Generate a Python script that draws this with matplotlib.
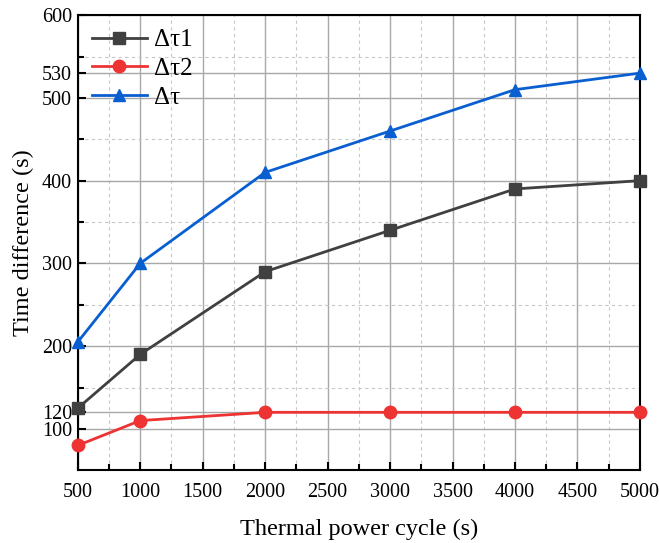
import numpy as np
import matplotlib.pyplot as plt
from matplotlib.ticker import FixedLocator

plt.rcParams['font.family'] = ['Liberation Serif', 'DejaVu Serif']

cycles = [500, 1000, 2000, 3000, 4000, 5000]
dtau1 = [125, 190, 290, 340, 390, 400]
dtau2 = [80, 110, 120, 120, 120, 120]
dtau = [205, 300, 410, 460, 510, 530]

xticks = [500, 1000, 1500, 2000, 2500, 3000, 3500, 4000, 4500, 5000]
xminor = [750, 1250, 1750, 2250, 2750, 3250, 3750, 4250, 4750]
yticks = [100, 120, 200, 300, 400, 500, 530, 600]
yminor = [150, 250, 350, 450, 550]

fig = plt.figure(figsize=(6.59, 5.43), dpi=100)
ax = fig.add_axes([0.118, 0.134, 0.853, 0.838])

ax.plot(cycles, dtau1, color='#404040', marker='s', ms=8, lw=2, label='Δτ1', clip_on=False, zorder=3)
ax.plot(cycles, dtau2, color='#ee3333', marker='o', ms=9, lw=2, label='Δτ2', clip_on=False, zorder=3)
ax.plot(cycles, dtau, color='#0a5fd0', marker='^', ms=9, lw=2, label='Δτ', clip_on=False, zorder=3)

ax.set_xlim(500, 5000)
ax.set_ylim(50, 600)
ax.xaxis.set_major_locator(FixedLocator(xticks))
ax.xaxis.set_minor_locator(FixedLocator(xminor))
ax.yaxis.set_major_locator(FixedLocator(yticks))
ax.yaxis.set_minor_locator(FixedLocator(yminor))

ax.grid(which='major', color='#a8a8a8', lw=1, ls='-')
ax.grid(which='minor', color='#c8c8c8', lw=0.8, ls=(0, (3, 3)))
ax.set_axisbelow(True)

ax.tick_params(which='both', direction='in', labelsize=14.5, width=1.5)
ax.tick_params(which='major', length=6)
ax.tick_params(which='minor', length=4)
ax.tick_params(axis='x', pad=9)
ax.tick_params(axis='y', pad=4)
for s in ax.spines.values():
    s.set_linewidth(1.5)

ax.set_xlabel('Thermal power cycle (s)', fontsize=17.5, labelpad=12)
ax.set_ylabel('Time difference (s)', fontsize=17.5, labelpad=6)

ax.legend(loc='upper left', frameon=False, fontsize=18, handlelength=2.2,
          borderaxespad=0.15, labelspacing=0.25, handletextpad=0.3)

fig.savefig('out.png', dpi=100)
